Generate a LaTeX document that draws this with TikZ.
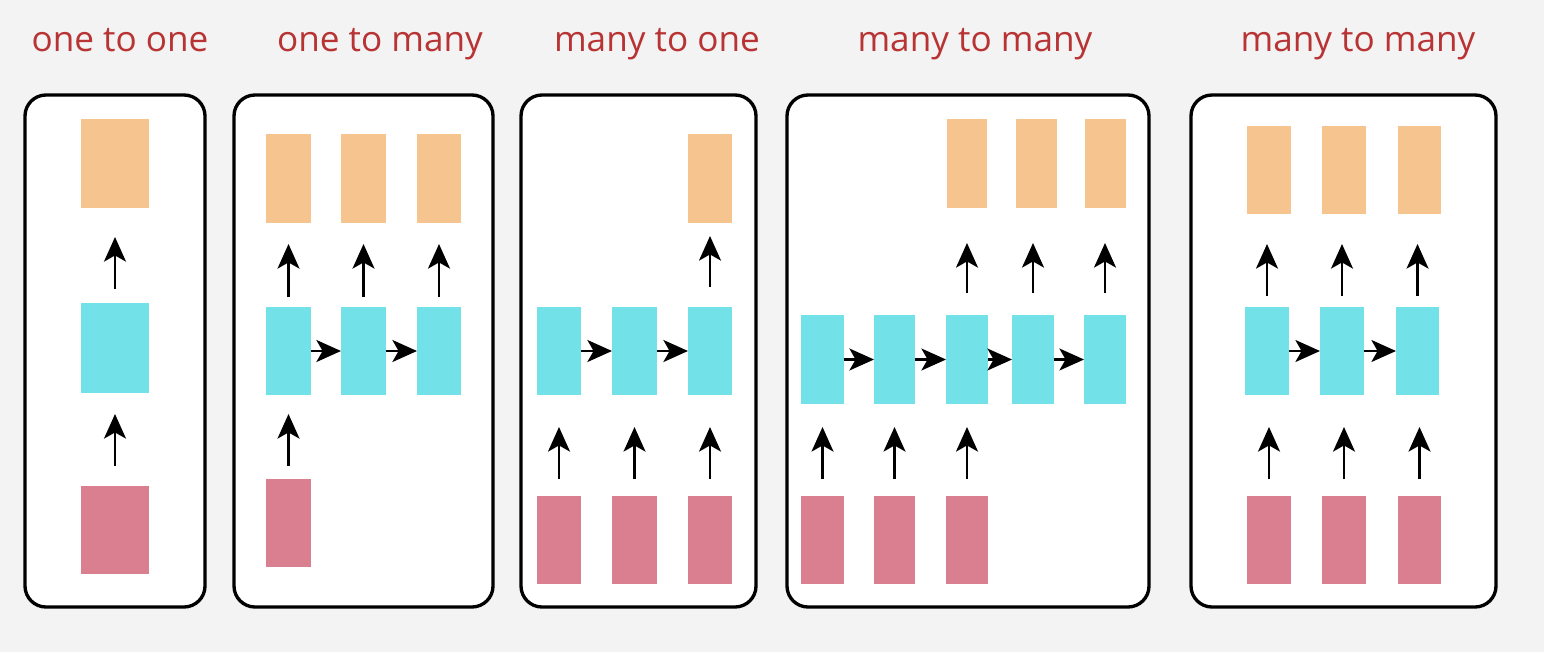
\documentclass[tikz,border=0pt]{standalone}
\usepackage{fontspec}
\setmainfont{Open Sans}
\usetikzlibrary{arrows.meta}
\definecolor{bgc}{RGB}{243,243,243}
\definecolor{ttl}{RGB}{184,52,52}
\definecolor{outc}{RGB}{245,196,143}
\definecolor{hidc}{RGB}{115,225,232}
\definecolor{inc}{RGB}{218,127,143}
\tikzset{
  panel/.style={draw=black,line width=1.9pt,rounded corners=0.42cm,fill=white},
  rb/.style={draw=none,inner sep=0pt,outer sep=0pt},
  ttlstyle/.style={text=ttl,font=\fontsize{20}{24}\selectfont,anchor=base,inner sep=0pt},
  conn/.style={line width=1.25pt,-{Stealth[length=14pt,width=12.5pt,inset=3.5pt]}},
}
\newcommand\rbox[6]{\node[rb,fill=#2,minimum width={(#5-#3)*0.02cm},minimum height={(#6-#4)*0.02cm}] (#1) at ({(#3+#5)/2},{(#4+#6)/2}) {};}
% up arrow from node #1 (lower) to node #2 (upper), tail gap #3 px, tip gap #4 px
\newcommand\uparr[4]{\draw[conn,shorten <=#3*0.02cm,shorten >=#4*0.02cm] (#1.north) -- (#1.north |- #2.south);}
\newcommand\rtarr[2]{\draw[conn] (#1.east) -- (#2.west);}
\begin{document}
\begin{tikzpicture}[x=0.02cm,y=-0.02cm]
\fill[bgc] (0,0) rectangle (1544,652);
\useasboundingbox (0,0) rectangle (1544,652);
% titles
\node[ttlstyle] (t1) at (120,52) {one to one};
\node[ttlstyle] (t2) at (380,52) {one to many};
\node[ttlstyle] (t3) at (657,52) {many to one};
\node[ttlstyle] (t4) at (975,52) {many to many};
\node[ttlstyle] (t5) at (1358,52) {many to many};
% panels
\draw[panel] (25,95) rectangle (205,607);
\draw[panel] (234,95) rectangle (493,607);
\draw[panel] (521,95) rectangle (756,607);
\draw[panel] (787,95) rectangle (1149,607);
\draw[panel] (1191,95) rectangle (1496,607);
% panel 1
\rbox{a1o}{outc}{81}{119}{149}{208}
\rbox{a1h}{hidc}{81}{303}{149}{393}
\rbox{a1i}{inc}{81}{486}{149}{574}
\uparr{a1h}{a1o}{14}{29}
\uparr{a1i}{a1h}{20}{21}
% panel 2
\rbox{b1o}{outc}{266}{134}{311}{223}
\rbox{b2o}{outc}{341}{134}{386}{223}
\rbox{b3o}{outc}{417}{134}{461}{223}
\rbox{b1h}{hidc}{266}{307}{311}{395}
\rbox{b2h}{hidc}{341}{307}{386}{395}
\rbox{b3h}{hidc}{417}{307}{461}{395}
\rbox{b1i}{inc}{266}{479}{311}{567}
\uparr{b1h}{b1o}{10}{21}
\uparr{b2h}{b2o}{10}{21}
\uparr{b3h}{b3o}{10}{21}
\rtarr{b1h}{b2h}
\rtarr{b2h}{b3h}
\uparr{b1i}{b1h}{13}{19}
% panel 3
\rbox{c3o}{outc}{688}{134}{732}{223}
\rbox{c1h}{hidc}{537}{307}{581}{395}
\rbox{c2h}{hidc}{612}{307}{657}{395}
\rbox{c3h}{hidc}{688}{307}{732}{395}
\rbox{c1i}{inc}{537}{496}{581}{584}
\rbox{c2i}{inc}{612}{496}{657}{584}
\rbox{c3i}{inc}{688}{496}{732}{584}
\uparr{c3h}{c3o}{20}{13}
\rtarr{c1h}{c2h}
\rtarr{c2h}{c3h}
\uparr{c1i}{c1h}{17}{32}
\uparr{c2i}{c2h}{17}{32}
\uparr{c3i}{c3h}{17}{32}
% panel 4
\rbox{d3o}{outc}{947}{119}{987}{208}
\rbox{d4o}{outc}{1016}{119}{1057}{208}
\rbox{d5o}{outc}{1085}{119}{1126}{208}
\rbox{d1h}{hidc}{801}{315}{844}{404}
\rbox{d2h}{hidc}{874}{315}{915}{404}
\rbox{d3h}{hidc}{946}{315}{988}{404}
\rbox{d4h}{hidc}{1012}{315}{1054}{404}
\rbox{d5h}{hidc}{1084}{315}{1126}{404}
\rbox{d1i}{inc}{801}{496}{844}{584}
\rbox{d2i}{inc}{874}{496}{915}{584}
\rbox{d3i}{inc}{946}{496}{988}{584}
\uparr{d3h}{d3o}{22}{35}
\uparr{d4h}{d4o}{22}{35}
\uparr{d5h}{d5o}{22}{35}
\rtarr{d1h}{d2h}
\rtarr{d2h}{d3h}
\rtarr{d3h}{d4h}
\rtarr{d4h}{d5h}
\uparr{d1i}{d1h}{17}{23}
\uparr{d2i}{d2h}{17}{23}
\uparr{d3i}{d3h}{17}{23}
% panel 5
\rbox{e1o}{outc}{1247}{126}{1291}{214}
\rbox{e2o}{outc}{1322}{126}{1366}{214}
\rbox{e3o}{outc}{1398}{126}{1441}{214}
\rbox{e1h}{hidc}{1245}{307}{1289}{395}
\rbox{e2h}{hidc}{1320}{307}{1364}{395}
\rbox{e3h}{hidc}{1396}{307}{1439}{395}
\rbox{e1i}{inc}{1247}{496}{1291}{584}
\rbox{e2i}{inc}{1322}{496}{1366}{584}
\rbox{e3i}{inc}{1398}{496}{1441}{584}
\uparr{e1h}{e1o}{11}{30}
\uparr{e2h}{e2o}{11}{30}
\uparr{e3h}{e3o}{11}{30}
\rtarr{e1h}{e2h}
\rtarr{e2h}{e3h}
\uparr{e1i}{e1h}{17}{32}
\uparr{e2i}{e2h}{17}{32}
\uparr{e3i}{e3h}{17}{32}
\end{tikzpicture}
\end{document}
